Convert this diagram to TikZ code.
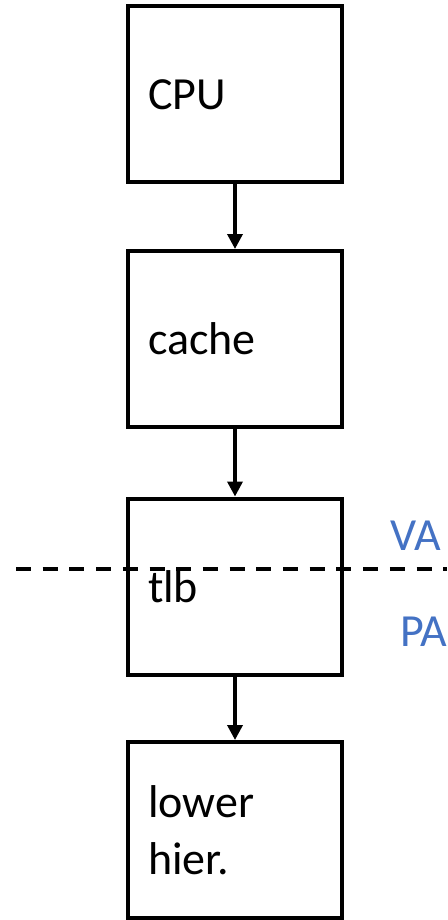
\documentclass[tikz,border=0pt]{standalone}
\usepackage{fontspec}
\setmainfont{Carlito}
\usetikzlibrary{arrows.meta}
\usetikzlibrary{positioning}
\definecolor{vablue}{RGB}{68,114,196}

\begin{document}
\begin{tikzpicture}[x=1pt,y=-1pt,>={Triangle[width=15pt,length=15pt]},
    box node/.style={rectangle,draw,line width=4pt,minimum width=214pt,minimum height=176pt,
      text width=174pt,align=left,inner xsep=20pt,font=\fontsize{46}{57}\selectfont},
    tag node/.style={anchor=base west,text=vablue,inner sep=0pt,font=\fontsize{46}{57}\selectfont}]
  \useasboundingbox (0,0) rectangle (447,920);
  \node[box node] (cpu) at (235,94.5) {CPU};
  \node[box node] (cache) at (235,339) {cache};
  \node[box node] (tlb) at (235,586.5) {tlb};
  \node[box node] (low) at (235,830) {lower\\hier.};
  \path[->,line width=3.5pt] (cpu) edge (cache);
  \path[->,line width=3.5pt] (cache) edge (tlb);
  \path[->,line width=3.5pt] (tlb) edge (low);
  % address split
  \coordinate (dl) at (16,569);
  \coordinate (dr) at (447,569);
  \draw[line width=3.5pt,dash pattern=on 15pt off 11.7pt] (dl) -- (dr);
  \node[tag node] (va) at (390,550) {VA};
  \node[tag node] (pa) at (400,646) {PA};
\end{tikzpicture}
\end{document}
